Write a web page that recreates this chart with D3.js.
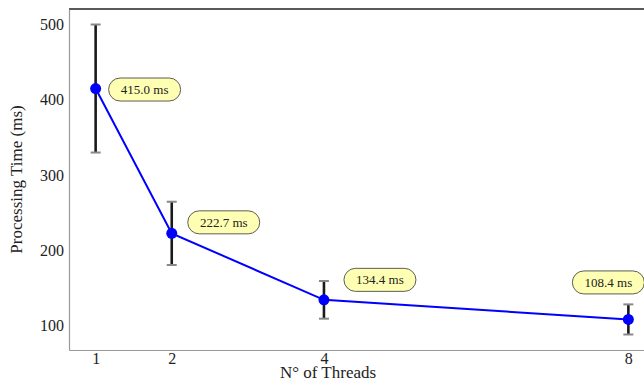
<!DOCTYPE html>
<html>
<head>
<meta charset="utf-8">
<script src="https://cdn.jsdelivr.net/npm/d3@7"></script>
<style>
    html, body { margin: 0; padding: 0; background: #fff; overflow: hidden; }
</style>
</head>
<body>
<div id="chart"></div>
<script>
// chart data
const threads = [1, 2, 4, 8];
const meanTime = [415.0, 222.7, 134.4, 108.4];
const errTime = [85, 42, 25, 20];
const yTicks = [100, 200, 300, 400, 500];
const labelText = meanTime.map(v => v.toFixed(1) + ' ms');

// label placement (px offsets of label centre from its point)
const labelOffsets = [[49, 1], [52, -11], [56, -20], [-20, -37]];

const FONT = 'Liberation Serif';
const W = 644, H = 383;
const margin = { top: 9, right: -11, bottom: 33, left: 69 };

const svg = d3.select('#chart').append('svg')
    .attr('width', W)
    .attr('height', H)
    .attr('font-family', FONT);

const x = d3.scaleLinear()
    .domain([0.65, 8.35])
    .range([margin.left, W - margin.right]);

const lo = d3.min(meanTime.map((v, i) => v - errTime[i]));
const hi = d3.max(meanTime.map((v, i) => v + errTime[i]));
const pad = (hi - lo) * 0.05;
const y = d3.scaleLinear()
    .domain([lo - pad, hi + pad])
    .range([H - margin.bottom, margin.top]);

// panel border: top dark, left/bottom grey
svg.append('line')
    .attr('x1', margin.left).attr('x2', W - margin.right)
    .attr('y1', margin.top).attr('y2', margin.top)
    .attr('stroke', '#222').attr('stroke-width', 1.3);

const xAxis = svg.append('g')
    .attr('transform', `translate(0,${H - margin.bottom})`)
    .call(d3.axisBottom(x).tickValues(threads).tickSize(0).tickPadding(3));
xAxis.attr('font-family', FONT);
xAxis.select('.domain').attr('stroke', '#999').attr('stroke-width', 1.2);
xAxis.selectAll('text')
    .style('font-family', FONT).style('font-size', '16px')
    .attr('fill', '#222');

const yAxis = svg.append('g')
    .attr('transform', `translate(${margin.left},0)`)
    .call(d3.axisLeft(y).tickValues(yTicks).tickSize(0).tickPadding(5));
yAxis.attr('font-family', FONT);
yAxis.select('.domain').attr('stroke', '#999').attr('stroke-width', 1.2);
yAxis.selectAll('text')
    .style('font-family', FONT).style('font-size', '16px')
    .attr('fill', '#222');

// axis titles
svg.append('text')
    .attr('x', 328).attr('y', 378)
    .attr('text-anchor', 'middle')
    .style('font-family', FONT).style('font-size', '17px')
    .attr('fill', '#222')
    .text('N° of Threads');

svg.append('text')
    .attr('transform', `translate(22,${(margin.top + H - margin.bottom) / 2}) rotate(-90)`)
    .attr('text-anchor', 'middle')
    .style('font-family', FONT).style('font-size', '17px')
    .attr('fill', '#222')
    .text('Processing Time (ms)');

const data = threads.map((t, i) => ({
    t, v: meanTime[i], e: errTime[i], label: labelText[i], off: labelOffsets[i]
}));

// error bars
const eb = svg.append('g').attr('class', 'errorbars');
eb.selectAll('line.stem')
    .data(data)
    .join('line')
    .attr('class', 'stem')
    .attr('x1', d => x(d.t)).attr('x2', d => x(d.t))
    .attr('y1', d => y(d.v - d.e)).attr('y2', d => y(d.v + d.e))
    .attr('stroke', '#1a1a1a').attr('stroke-width', 2.6);
['top', 'bottom'].forEach(side => {
    eb.selectAll('line.cap-' + side)
        .data(data)
        .join('line')
        .attr('class', 'cap-' + side)
        .attr('x1', d => x(d.t) - 5).attr('x2', d => x(d.t) + 5)
        .attr('y1', d => y(side === 'top' ? d.v + d.e : d.v - d.e))
        .attr('y2', d => y(side === 'top' ? d.v + d.e : d.v - d.e))
        .attr('stroke', '#888').attr('stroke-width', 2);
});

// line + points
svg.append('path')
    .datum(data)
    .attr('fill', 'none')
    .attr('stroke', '#0000ff')
    .attr('stroke-width', 2)
    .attr('d', d3.line().x(d => x(d.t)).y(d => y(d.v)));

svg.append('g').selectAll('circle')
    .data(data)
    .join('circle')
    .attr('cx', d => x(d.t))
    .attr('cy', d => y(d.v))
    .attr('r', 5.5)
    .attr('fill', '#0000ff');

// value labels
const lab = svg.append('g').selectAll('g')
    .data(data)
    .join('g')
    .attr('transform', d => `translate(${x(d.t) + d.off[0]},${y(d.v) + d.off[1]})`);
lab.append('rect')
    .attr('x', -36).attr('y', -11.5)
    .attr('width', 72).attr('height', 23)
    .attr('rx', 11.5).attr('ry', 11.5)
    .attr('fill', '#ffffb3')
    .attr('stroke', '#333')
    .attr('stroke-width', 0.8);
lab.append('text')
    .attr('text-anchor', 'middle')
    .attr('dy', '0.35em')
    .style('font-family', FONT).style('font-size', '13px')
    .attr('fill', '#222')
    .text(d => d.label);
</script>
</body>
</html>
